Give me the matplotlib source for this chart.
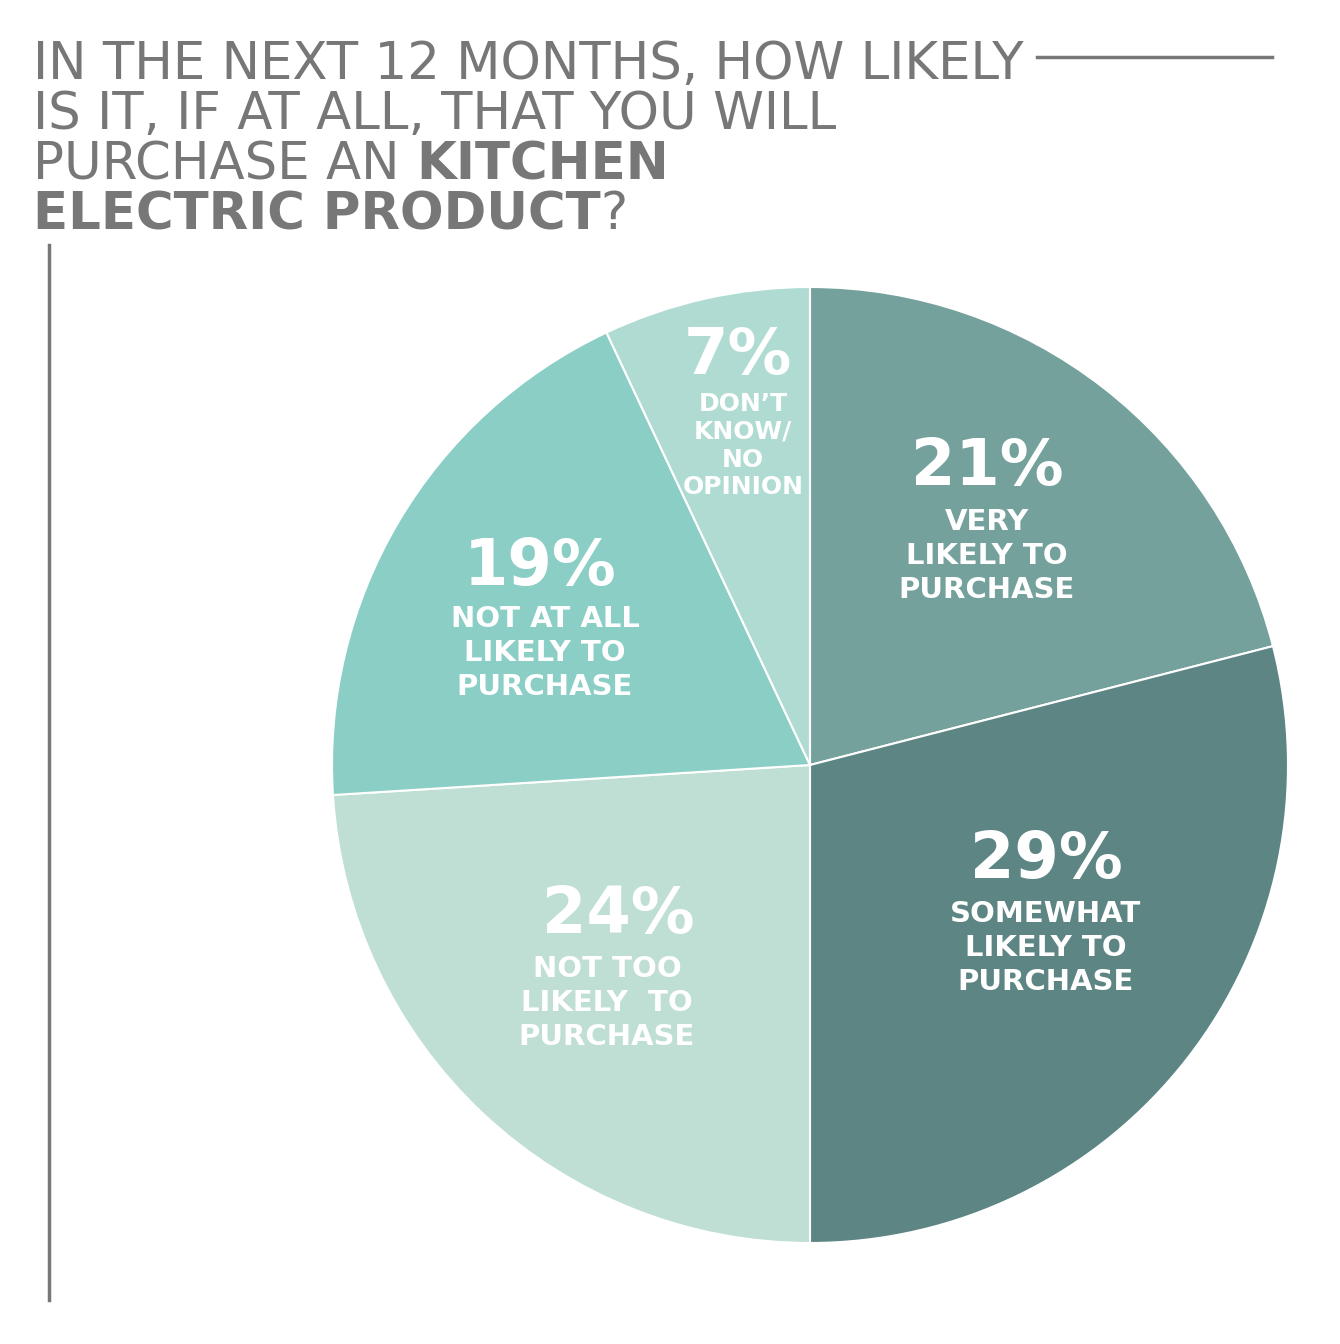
import matplotlib
matplotlib.use("Agg")
import matplotlib.pyplot as plt
from matplotlib.lines import Line2D

W, H = 1340, 1344

# data
labels = ["VERY\nLIKELY TO\nPURCHASE", "SOMEWHAT\nLIKELY TO\nPURCHASE",
          "NOT TOO\nLIKELY  TO\nPURCHASE", "NOT AT ALL\nLIKELY TO\nPURCHASE",
          "DON\u2019T\nKNOW/\nNO\nOPINION"]
values = [21, 29, 24, 19, 7]
colors = ["#74a19c", "#5c8583", "#bfded4", "#8bcec6", "#b0dbd3"]

# label anchor points (pixels, top-left origin): pct centre, sub-label top
pct_pos = [(987, 467), (1046, 860), (618, 915), (540, 567), (738, 356)]
sub_pos = [(987, 508), (1046, 900), (607, 955), (545, 605), (743, 392)]
sub_size = [21, 21, 21, 21, 18]
pct_size = [46, 46, 46, 46, 46]

title_lines = [
    [("IN THE NEXT 12 MONTHS, HOW LIKELY", "normal")],
    [("IS IT, IF AT ALL, THAT YOU WILL", "normal")],
    [("PURCHASE AN ", "normal"), ("KITCHEN", "bold")],
    [("ELECTRIC PRODUCT", "bold"), ("?", "normal")],
]

fig = plt.figure(figsize=(W / 100, H / 100), dpi=100)
fig.patch.set_facecolor("white")

cx, cy, r = 810, 765, 478
ax = fig.add_axes([(cx - r) / W, (H - cy - r) / H, 2 * r / W, 2 * r / H])
ax.pie(values, colors=colors, startangle=90, counterclock=False,
       wedgeprops=dict(edgecolor="white", linewidth=1.5))
ax.set_xlim(-1, 1)
ax.set_ylim(-1, 1)
ax.set_aspect("equal")
ax.axis("off")


def fx(x):
    return x / W


def fy(y):
    return 1 - y / H


for i in range(len(values)):
    fig.text(fx(pct_pos[i][0]), fy(pct_pos[i][1]), f"{values[i]}%",
             ha="center", va="center", color="white", fontsize=pct_size[i],
             fontweight="bold", family="DejaVu Sans")
    ls = 1.2 if i == 4 else 1.27
    fig.text(fx(sub_pos[i][0]), fy(sub_pos[i][1]), labels[i],
             ha="center", va="top", color="white", fontsize=sub_size[i],
             fontweight="bold", family="DejaVu Sans", linespacing=ls,
             multialignment="center")

# title with mixed weights
grey = "#777777"
renderer = fig.canvas.get_renderer()
y0 = 79
for k, parts in enumerate(title_lines):
    x = 33
    for txt, wt in parts:
        t = fig.text(fx(x), fy(y0 + k * 50), txt, ha="left", va="baseline",
                     color=grey, fontsize=37, fontweight=wt,
                     family="DejaVu Sans")
        bb = t.get_window_extent(renderer=renderer)
        x += bb.width

fig.add_artist(Line2D([fx(1037), fx(1272)], [fy(57), fy(57)], color=grey, lw=2.5))
fig.add_artist(Line2D([fx(49), fx(49)], [fy(245), fy(1300)], color=grey, lw=2.5))

fig.savefig("out.png", dpi=100, facecolor="white")
